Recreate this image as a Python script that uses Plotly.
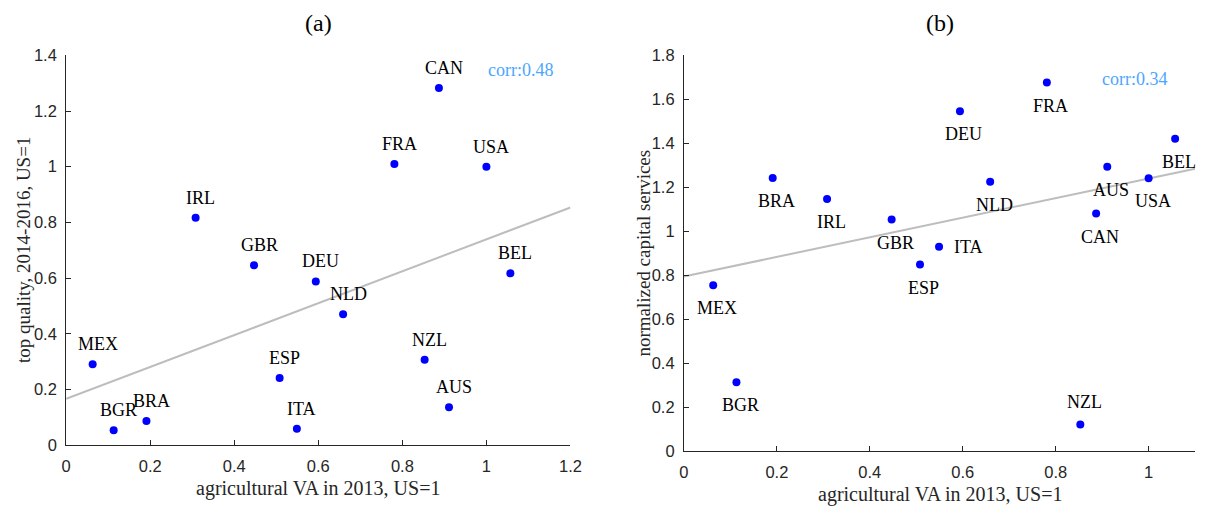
import numpy as np
import plotly.graph_objects as go

# Country codes and agricultural value added in 2013 (US = 1)
countries = ["CAN", "FRA", "USA", "IRL", "GBR", "DEU", "BEL", "NLD",
             "MEX", "ESP", "NZL", "AUS", "BGR", "BRA", "ITA"]
ag_va = [0.887, 0.781, 1.000, 0.308, 0.447, 0.594, 1.057, 0.659,
         0.063, 0.508, 0.853, 0.911, 0.113, 0.191, 0.549]

# Panel (a): top quality share, 2014-2016 (US = 1)
top_quality = [1.283, 1.010, 1.000, 0.817, 0.646, 0.588, 0.617, 0.470,
               0.291, 0.241, 0.307, 0.136, 0.054, 0.087, 0.059]

# Panel (b): normalized capital services
capital = [1.080, 1.676, 1.241, 1.146, 1.053, 1.545, 1.420, 1.225,
           0.754, 0.848, 0.120, 1.293, 0.313, 1.242, 0.929]

corr_labels = ["corr:0.48", "corr:0.34"]
panel_titles = ["(a)", "(b)"]
x_title = "agricultural VA in 2013, US=1"
y_titles = ["top quality, 2014-2016, US=1", "normalized capital services"]

W, H = 1213, 515
SERIF = "Liberation Serif, Times New Roman, serif"
SANS = "Liberation Sans, Arial, Helvetica, sans-serif"
AX_COL = "#262626"
DOT_COL = "#0000FF"
FIT_COL = "#BDBDBD"
CORR_COL = "#4DA6FF"

# pixel boxes of the two axes: (left, right, bottom, top)
boxes = [(62, 573, 452, 48), (688, 1206, 458, 48)]
x_ranges = [[0, 1.2], [0, 1.1]]
y_ranges = [[0, 1.4], [0, 1.8]]
corr_pos = [(1.080, 1.348), (0.970, 1.691)]


def px(xp):
    return xp / W


def py(yp):
    return 1 - yp / H


fig = go.Figure()
annotations = []

for i, (ys, xr, yr) in enumerate(zip([top_quality, capital], x_ranges, y_ranges)):
    sx = "" if i == 0 else "2"
    xref, yref = "x" + sx, "y" + sx

    # least-squares fit line across the full x range
    slope, icpt = np.polyfit(ag_va, ys, 1)
    xf = np.array(xr, dtype=float)
    fig.add_trace(go.Scatter(x=xf, y=icpt + slope * xf, mode="lines",
                             line=dict(color=FIT_COL, width=2),
                             xaxis=xref, yaxis=yref, showlegend=False,
                             hoverinfo="skip"))
    fig.add_trace(go.Scatter(x=ag_va, y=ys, mode="markers",
                             marker=dict(color=DOT_COL, size=8),
                             xaxis=xref, yaxis=yref, showlegend=False,
                             cliponaxis=False))

    for c, xv, yv in zip(countries, ag_va, ys):
        if i == 0:
            xs, ysh = 5, 20
        elif c == "ITA":
            xs, ysh = 29, 0
        elif c == "NZL":
            xs, ysh = 4, 23
        else:
            xs, ysh = 4, -23
        annotations.append(dict(x=xv, y=yv, xref=xref, yref=yref, text=c,
                                showarrow=False, xshift=xs, yshift=ysh,
                                xanchor="center", yanchor="middle",
                                font=dict(family=SERIF, size=18, color="black")))

    cx, cy = corr_pos[i]
    annotations.append(dict(x=cx, y=cy, xref=xref, yref=yref, text=corr_labels[i],
                            showarrow=False, xanchor="center", yanchor="middle",
                            font=dict(family=SERIF, size=18, color=CORR_COL)))

    l, r, b, t = boxes[i]
    axis_common = dict(showgrid=False, zeroline=False, showline=True,
                       linecolor=AX_COL, linewidth=1, ticks="inside", ticklen=5,
                       tickcolor=AX_COL, tickwidth=1, dtick=0.2, tick0=0,
                       tickfont=dict(family=SANS, size=16.5, color=AX_COL),
                       fixedrange=True)
    fig.update_layout(**{
        "xaxis" + sx: dict(domain=[px(l), px(r)], range=xr, anchor=yref,
                           ticklabelstandoff=6, **axis_common),
        "yaxis" + sx: dict(domain=[py(b), py(t)], range=yr, anchor=xref,
                           ticklabelstandoff=5, **axis_common),
    })

    mid_x = (l + r) / 2
    annotations.append(dict(x=px(mid_x), y=py(15), xref="paper", yref="paper",
                            text=panel_titles[i], showarrow=False,
                            xanchor="center", yanchor="middle",
                            font=dict(family=SERIF, size=24, color="black")))
    annotations.append(dict(x=px(mid_x), y=py(497 if i == 0 else 503),
                            xref="paper", yref="paper", text=x_title,
                            showarrow=False, xanchor="center", yanchor="middle",
                            font=dict(family=SERIF, size=20, color=AX_COL)))
    annotations.append(dict(x=px(19 if i == 0 else 647), y=py((b + t) / 2),
                            xref="paper", yref="paper", text=y_titles[i],
                            textangle=-90, showarrow=False,
                            xanchor="center", yanchor="middle",
                            font=dict(family=SERIF, size=19, color=AX_COL)))

fig.update_layout(width=W, height=H, autosize=False,
                  margin=dict(l=0, r=0, t=0, b=0, pad=0),
                  paper_bgcolor="white", plot_bgcolor="white",
                  annotations=annotations)

fig.write_html("out.html")
